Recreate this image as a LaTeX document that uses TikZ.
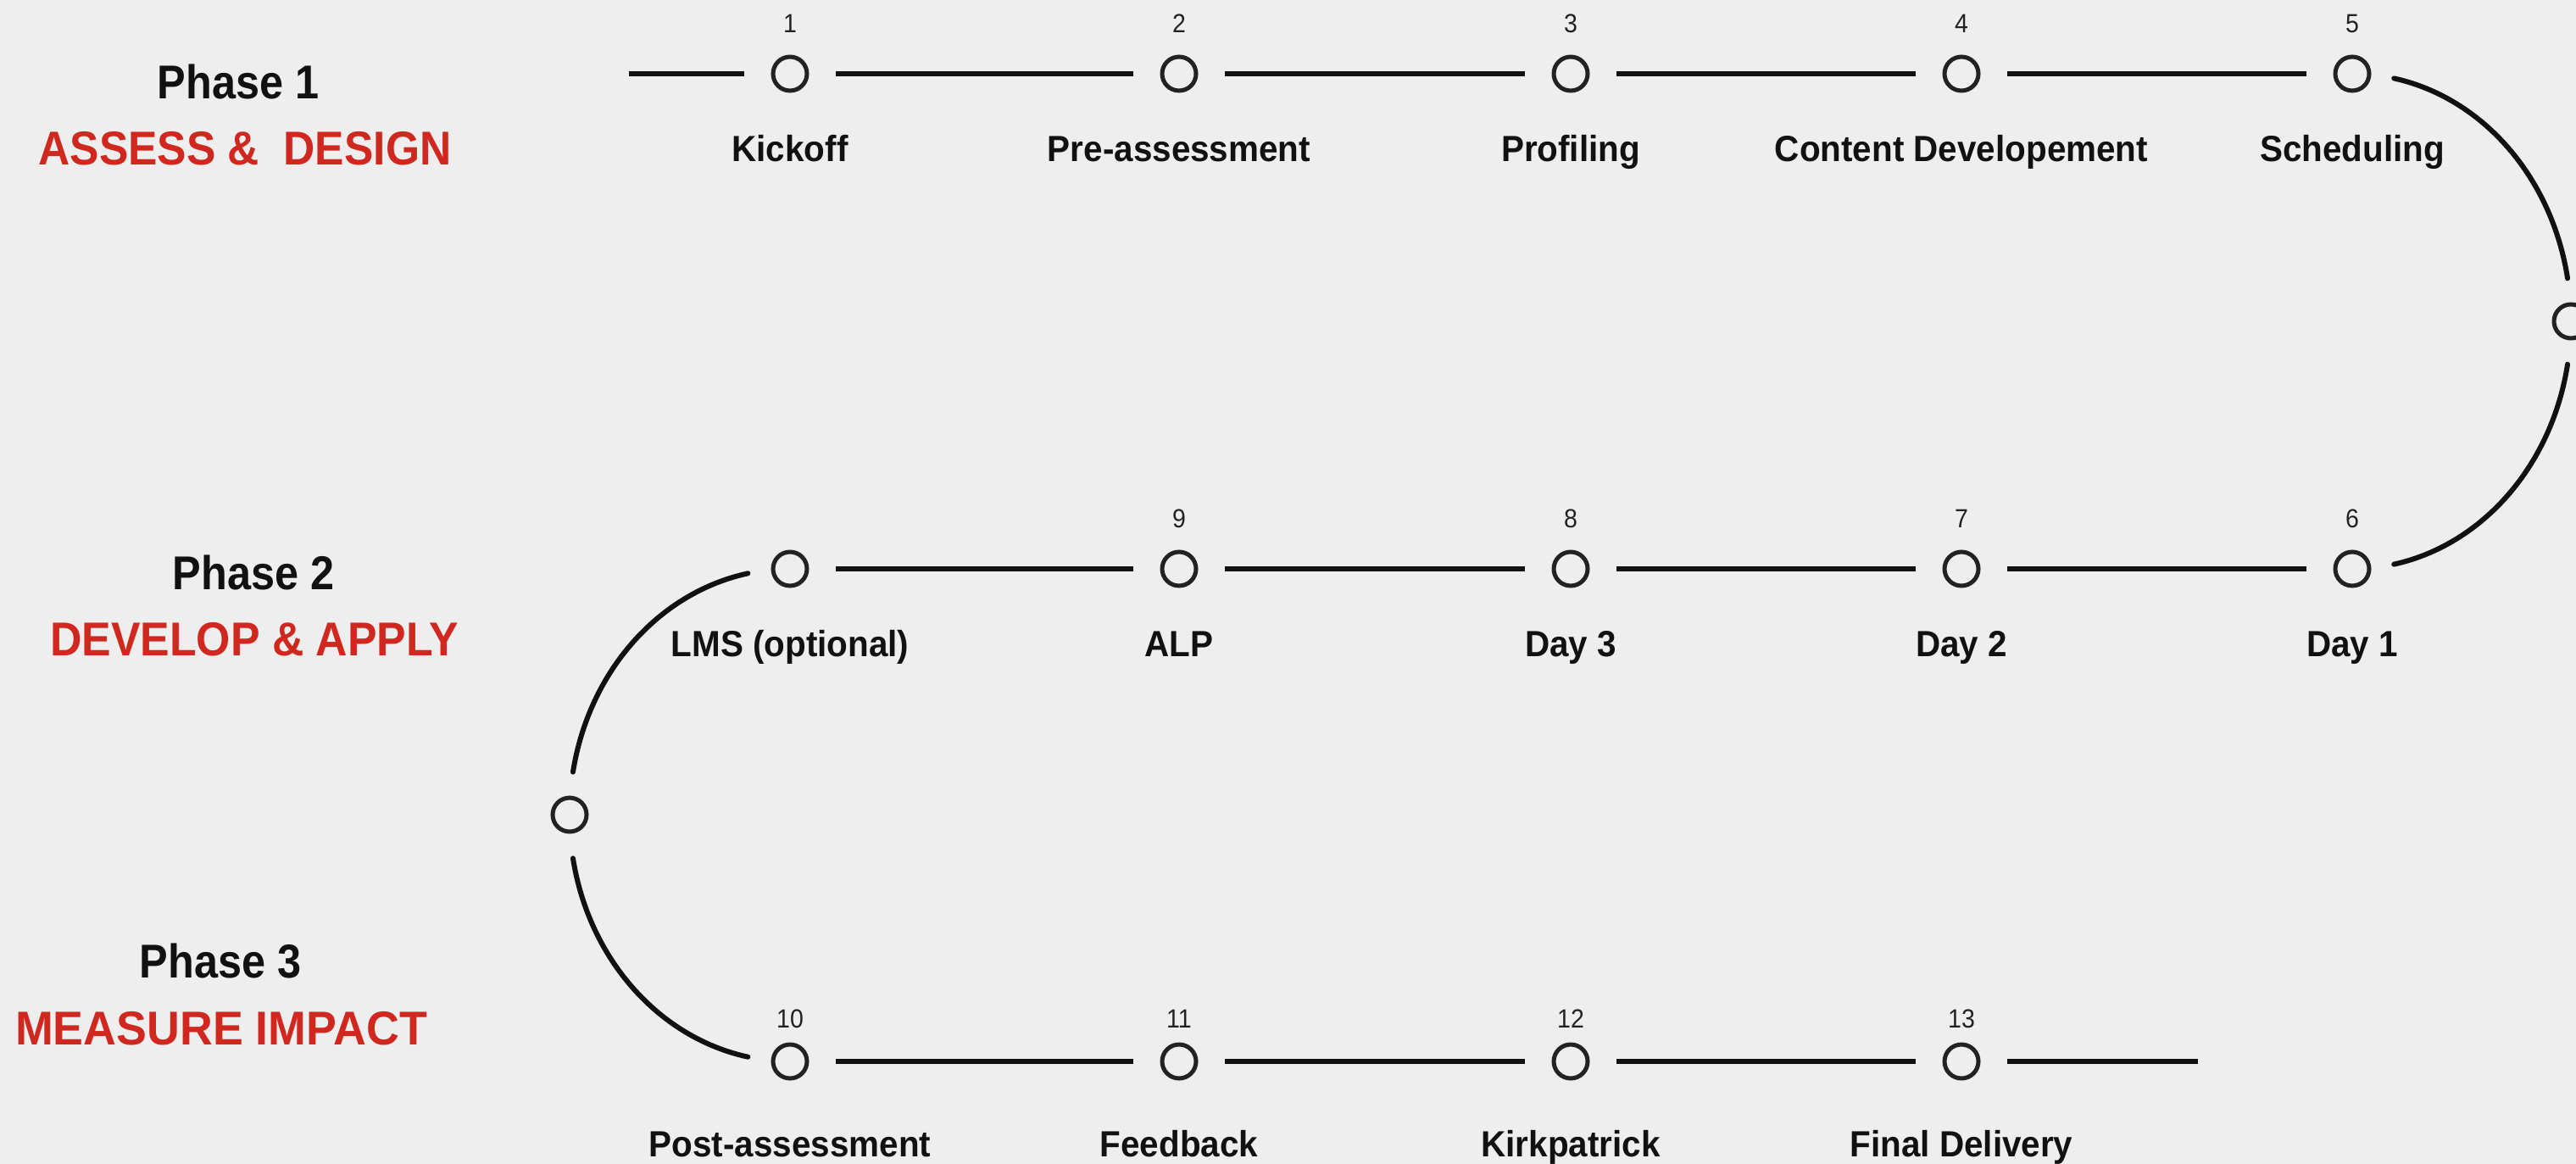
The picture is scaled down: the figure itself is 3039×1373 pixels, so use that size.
\documentclass[tikz,border=0pt]{standalone}
\usepackage{fontspec}
\usepackage{graphicx}
\setmainfont{Liberation Sans}
\definecolor{bgc}{HTML}{EEEEEE}
\definecolor{linec}{HTML}{111111}
\definecolor{dotc}{HTML}{222222}
\definecolor{redc}{HTML}{D0281F}
\newcommand\cnd[2][0.94]{\scalebox{#1}[1]{#2}}
\tikzset{
  dot/.style={circle, draw=dotc, line width=5pt, minimum size=40pt, inner sep=0pt},
  link/.style={line width=6pt, draw=linec},
  num/.style={anchor=base, inner sep=0pt, text=dotc, font=\fontsize{31}{36}\selectfont},
  lab/.style={anchor=base, inner sep=0pt, text=linec, font=\bfseries\fontsize{43}{50}\selectfont},
  phase/.style={anchor=base, inner sep=0pt, text=linec, font=\bfseries\fontsize{56}{64}\selectfont},
  ptitle/.style={anchor=base, inner sep=0pt, text=redc, font=\bfseries\fontsize{56}{64}\selectfont},
}
\begin{document}
\begin{tikzpicture}[x=1pt, y=-1pt]
\fill[bgc] (0,0) rectangle (3039,1373);
\useasboundingbox (0,0) rectangle (3039,1373);
\clip (0,0) rectangle (3039,1373);
% phase titles
\node[phase] (p1) at (281,116) {\cnd[0.9]{Phase 1}};
\node[ptitle] (t1) at (289,194) {\cnd[0.92]{ASSESS \&\ \ DESIGN}};
\node[phase] (p2) at (299,695) {\cnd[0.9]{Phase 2}};
\node[ptitle] (t2) at (300,773) {\cnd[0.925]{DEVELOP \& APPLY}};
\node[phase] (p3) at (260,1153) {\cnd[0.9]{Phase 3}};
\node[ptitle] (t3) at (261,1232) {\cnd[0.96]{MEASURE IMPACT}};
% row 1
\node[dot] (c1) at (932,87) {};
\node[dot] (c2) at (1391,87) {};
\node[dot] (c3) at (1853,87) {};
\node[dot] (c4) at (2314,87) {};
\node[dot] (c5) at (2775,87) {};
% right middle
\node[dot] (m1) at (3033,379) {};
% row 2
\node[dot] (c6) at (2775,671) {};
\node[dot] (c7) at (2314,671) {};
\node[dot] (c8) at (1853,671) {};
\node[dot] (c9) at (1391,671) {};
\node[dot] (cl) at (932,671) {};
% left middle
\node[dot] (m2) at (672,961) {};
% row 3
\node[dot] (c10) at (932,1252) {};
\node[dot] (c11) at (1391,1252) {};
\node[dot] (c12) at (1853,1252) {};
\node[dot] (c13) at (2314,1252) {};
% numbers
\foreach \n/\c in {1/c1,2/c2,3/c3,4/c4,5/c5,6/c6,7/c7,8/c8,9/c9}{
  \node[num] (n\n) at ([yshift=49pt]\c.center) {\cnd[0.92]{\n}};
}
\foreach \n/\c in {10/c10,11/c11,12/c12,13/c13}{
  \node[num] (n\n) at ([yshift=40pt]\c.center) {\cnd[0.92]{\n}};
}
% labels
\node[lab] (l1) at ([yshift=-103pt]c1.center) {\cnd{Kickoff}};
\node[lab] (l2) at ([yshift=-103pt]c2.center) {\cnd{Pre-assessment}};
\node[lab] (l3) at ([yshift=-103pt]c3.center) {\cnd{Profiling}};
\node[lab] (l4) at ([yshift=-103pt]c4.center) {\cnd{Content Developement}};
\node[lab] (l5) at ([yshift=-103pt]c5.center) {\cnd{Scheduling}};
\node[lab] (l6) at ([yshift=-103pt]c6.center) {\cnd{Day 1}};
\node[lab] (l7) at ([yshift=-103pt]c7.center) {\cnd{Day 2}};
\node[lab] (l8) at ([yshift=-103pt]c8.center) {\cnd{Day 3}};
\node[lab] (l9) at ([yshift=-103pt]c9.center) {\cnd{ALP}};
\node[lab] (ll) at ([yshift=-103pt]cl.center) {\cnd{LMS (optional)}};
\node[lab] (l10) at ([yshift=-112pt]c10.center) {\cnd{Post-assessment}};
\node[lab] (l11) at ([yshift=-112pt]c11.center) {\cnd{Feedback}};
\node[lab] (l12) at ([yshift=-112pt]c12.center) {\cnd{Kirkpatrick}};
\node[lab] (l13) at ([yshift=-112pt]c13.center) {\cnd{Final Delivery}};
% free ends
\coordinate (s0) at (742,87);
\coordinate (e0) at (2593,1252);
% straight links
\draw[link] (s0) -- ([xshift=-31.5pt]c1.west);
\foreach \a/\b in {c1/c2,c2/c3,c3/c4,c4/c5,c7/c6,c8/c7,c9/c8,cl/c9,c10/c11,c11/c12,c12/c13}{
  \draw[link] ([xshift=31.5pt]\a.east) -- ([xshift=-31.5pt]\b.west);
}
\draw[link] ([xshift=31.5pt]c13.east) -- (e0);
% arcs right
\draw[link, line cap=round] (c5.center) ++(49.2,5.4) arc[start angle=-79, end angle=-10, x radius=258, y radius=292];
\draw[link, line cap=round] (c6.center) ++(49.2,-5.4) arc[start angle=79, end angle=10, x radius=258, y radius=292];
% arcs left
\draw[link, line cap=round] (cl.center) ++(-49.6,5.3) arc[start angle=-101, end angle=-170, x radius=260, y radius=290];
\draw[link, line cap=round] (c10.center) ++(-49.6,-5.3) arc[start angle=101, end angle=170, x radius=260, y radius=290];
\end{tikzpicture}
\end{document}
